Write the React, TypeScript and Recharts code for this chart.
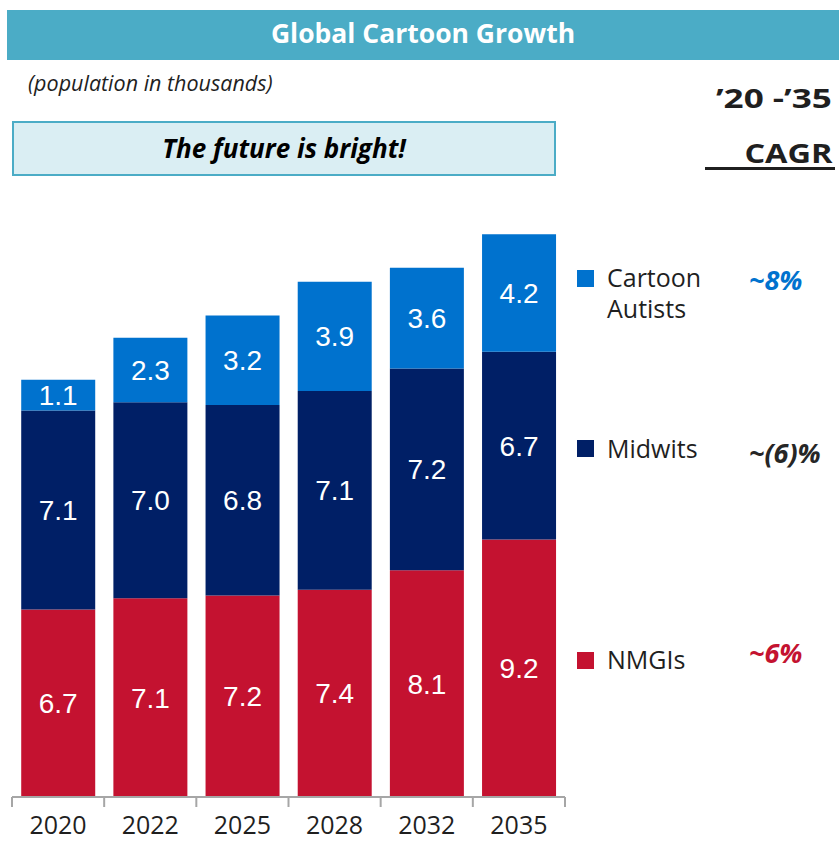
import React from 'react';
import { BarChart, Bar, XAxis, YAxis, LabelList } from 'recharts';

// ---- data ----
const years = ['2020', '2022', '2025', '2028', '2032', '2035'];
const nmgis = [6.7, 7.1, 7.2, 7.4, 8.1, 9.2];
const midwits = [7.1, 7.0, 6.8, 7.1, 7.2, 6.7];
const autists = [1.1, 2.3, 3.2, 3.9, 3.6, 4.2];

const seriesNames = ['Cartoon Autists', 'Midwits', 'NMGIs'];
const cagrLabels = ['~8%', '~(6)%', '~6%'];

const title = 'Global Cartoon Growth';
const subtitle = '(population in thousands)';
const callout = 'The future is bright!';
const cagrHeader1 = '\u201920 -\u201935';
const cagrHeader2 = 'CAGR';

// ---- styles ----
const COLORS = {
  autists: '#0072CE',
  midwits: '#001F66',
  nmgis: '#C41230',
  banner: '#4BACC6',
  box: '#DAEEF3',
  text: '#1F1F1F',
  axis: '#A6A6A6',
};
const FONT = '"Open Sans", Lato, sans-serif';
const LABEL_FONT = '"Liberation Sans", Arial, sans-serif';

const W = 839;
const H = 841;
const M = { top: 209, right: 274, left: 12, bottom: 0 };
const PLOT_W = W - M.left - M.right;

const data = years.map((y, i) => ({
  year: y,
  NMGIs: nmgis[i],
  Midwits: midwits[i],
  Autists: autists[i],
}));

const fmt = (v: any) => Number(v).toFixed(1);

const YearTick = (props: any) => {
  const { x, y, payload, index } = props;
  const half = PLOT_W / years.length / 2;
  return (
    <g>
      <line x1={x - half} y1={y} x2={x - half} y2={y + 10} stroke={COLORS.axis} strokeWidth={2} />
      {index === years.length - 1 && (
        <line x1={x + half} y1={y} x2={x + half} y2={y + 10} stroke={COLORS.axis} strokeWidth={2} />
      )}
      <text x={x} y={y + 37} textAnchor="middle" fontSize={25} fontFamily={FONT} fill={COLORS.text}>
        {payload.value}
      </text>
    </g>
  );
};

const abs = (s: React.CSSProperties): React.CSSProperties => ({ position: 'absolute', whiteSpace: 'nowrap', ...s });

export default function App() {
  const legendColors = [COLORS.autists, COLORS.midwits, COLORS.nmgis];
  const legendTop = [262, 433, 644];
  const squareTop = [270, 440, 652];
  const cagrTop = [264, 437, 637];
  const cagrColors = [COLORS.autists, '#262626', COLORS.nmgis];
  return (
    <div style={{ position: 'absolute', left: 0, top: 0, width: W, height: H, background: '#fff', fontFamily: FONT }}>
      <BarChart width={W} height={H} data={data} margin={M} barCategoryGap="10%">
        <YAxis hide domain={[0, 21]} />
        <XAxis
          dataKey="year"
          height={44}
          tickLine={false}
          tickSize={0}
          tickMargin={0}
          axisLine={{ stroke: COLORS.axis, strokeWidth: 2 }}
          tick={<YearTick />}
          interval={0}
        />
        <Bar dataKey="NMGIs" stackId="a" fill={COLORS.nmgis} isAnimationActive={false}>
          <LabelList dataKey="NMGIs" position="center" fill="#fff" fontSize={28} fontFamily={LABEL_FONT} formatter={fmt} />
        </Bar>
        <Bar dataKey="Midwits" stackId="a" fill={COLORS.midwits} isAnimationActive={false}>
          <LabelList dataKey="Midwits" position="center" fill="#fff" fontSize={28} fontFamily={LABEL_FONT} formatter={fmt} />
        </Bar>
        <Bar dataKey="Autists" stackId="a" fill={COLORS.autists} isAnimationActive={false}>
          <LabelList dataKey="Autists" position="center" fill="#fff" fontSize={28} fontFamily={LABEL_FONT} formatter={fmt} />
        </Bar>
      </BarChart>

      {/* title banner */}
      <div style={abs({ left: 7, top: 10, width: 832, height: 50, background: COLORS.banner, color: '#fff', fontWeight: 700, fontSize: 26.5, lineHeight: '46px', textAlign: 'center' })}>
        {title}
      </div>

      <div style={abs({ left: 28, top: 69, fontSize: 21.5, fontStyle: 'italic', color: COLORS.text, lineHeight: '28px' })}>
        {subtitle}
      </div>

      <div style={abs({ left: 12, top: 121, width: 544, height: 55, boxSizing: 'border-box', background: COLORS.box, border: `2px solid ${COLORS.banner}`, fontSize: 26, fontWeight: 700, fontStyle: 'italic', color: '#000', textAlign: 'center', lineHeight: '51px' })}>
        {callout}
      </div>

      {/* CAGR header */}
      <div style={abs({ right: 7, top: 83, fontSize: 26, fontWeight: 700, color: COLORS.text, lineHeight: '30px', transform: 'scaleX(1.35)', transformOrigin: 'right center' })}>
        {cagrHeader1}
      </div>
      <div style={abs({ right: 7, top: 138, fontSize: 26, fontWeight: 700, color: COLORS.text, lineHeight: '30px', transform: 'scaleX(1.25)', transformOrigin: 'right center' })}>
        {cagrHeader2}
      </div>
      <div style={abs({ left: 705, top: 167, width: 130, height: 3, background: COLORS.text })} />

      {/* legend */}
      {seriesNames.map((name, i) => (
        <React.Fragment key={name}>
          <div style={abs({ left: 577, top: squareTop[i], width: 17, height: 17, background: legendColors[i] })} />
          <div style={abs({ left: 607, top: legendTop[i], width: 130, fontSize: 25, lineHeight: '31px', color: COLORS.text })}>
            {name.split(' ').map((w) => (
              <div key={w}>{w}</div>
            ))}
          </div>
          <div style={abs({ left: 749, top: cagrTop[i], fontSize: 27, lineHeight: '31px', fontWeight: 700, fontStyle: 'italic', color: cagrColors[i] })}>
            {cagrLabels[i]}
          </div>
        </React.Fragment>
      ))}
    </div>
  );
}
